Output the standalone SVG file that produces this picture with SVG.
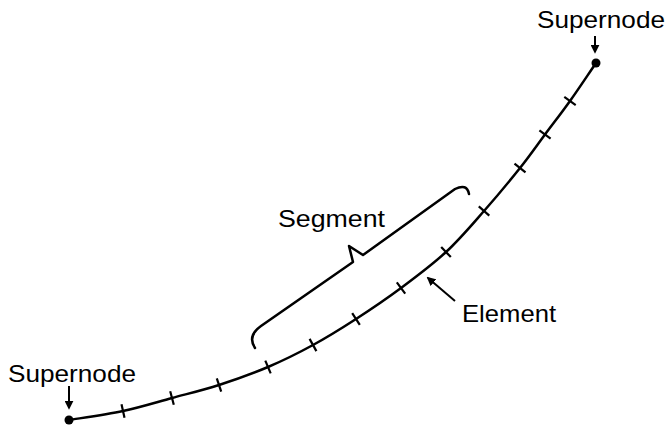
<svg xmlns="http://www.w3.org/2000/svg" width="667" height="432" viewBox="0 0 667 432">
<defs>
<style>
.lbl{font-family:"Liberation Sans",Arial,sans-serif;font-size:24px;fill:#000}
.ln{fill:none;stroke:#000;stroke-width:2.5;stroke-linecap:round;stroke-linejoin:round}
.tk{stroke:#000;stroke-width:2.2}
.ar{fill:none;stroke:#000;stroke-width:2}
</style>
<marker id="ah" viewBox="0 0 10 10" refX="8" refY="5" markerWidth="4.5" markerHeight="4.5" orient="auto" markerUnits="strokeWidth">
<path d="M0,0 L10,5 L0,10 Z" fill="#000"/>
</marker>
</defs>
<rect width="667" height="432" fill="#fff"/>
<g id="connectors">
<path id="line" class="ln" d="M69,420 C78,418.5 105.83,414.67 123,411 C140.17,407.33 156,402.33 172,398 C188,393.67 203,390.17 219,385 C235,379.83 252.33,373.67 268,367 C283.67,360.33 298.33,353 313,345 C327.67,337 341.33,328.5 356,319 C370.67,309.5 386,299.17 401,288 C416,276.83 432.17,264.83 446,252 C459.83,239.17 471.67,225 484,211 C496.33,197 509.83,180.75 520,168 C530.17,155.25 536.67,145.67 545,134.5 C553.33,123.33 561.5,112.92 570,101 C578.5,89.08 587.33,75.67 596,63"/>
<g id="ticks" class="tk">
<line x1="121.5" y1="404.2" x2="124.5" y2="417.8"/>
<line x1="170.2" y1="391.2" x2="173.8" y2="404.8"/>
<line x1="216.8" y1="378.3" x2="221.2" y2="391.7"/>
<line x1="265.3" y1="360.6" x2="270.7" y2="373.4"/>
<line x1="309.6" y1="338.9" x2="316.4" y2="351.1"/>
<line x1="352.2" y1="313.1" x2="359.8" y2="324.9"/>
<line x1="396.8" y1="282.4" x2="405.2" y2="293.6"/>
<line x1="441.2" y1="246.9" x2="450.8" y2="257.1"/>
<line x1="478.8" y1="206.4" x2="489.3" y2="215.6"/>
<line x1="514.5" y1="163.6" x2="525.5" y2="172.4"/>
<line x1="539.4" y1="130.3" x2="550.6" y2="138.7"/>
<line x1="564.3" y1="96.9" x2="575.7" y2="105.1"/>
</g>
</g>
<g id="supernode-left">
<circle cx="69" cy="420" r="4.5" fill="#000"/>
<line class="ar" x1="69" y1="386" x2="69" y2="408" marker-end="url(#ah)"/>
<text class="lbl" x="8" y="382" textLength="128" lengthAdjust="spacingAndGlyphs">Supernode</text>
</g>
<g id="supernode-right">
<circle cx="596" cy="63" r="4.5" fill="#000"/>
<line class="ar" x1="595" y1="36" x2="595" y2="52" marker-end="url(#ah)"/>
<text class="lbl" x="537" y="28" textLength="128" lengthAdjust="spacingAndGlyphs">Supernode</text>
</g>
<g id="segment">
<path class="ln" d="M255,348 Q247,336 261,326 L353,262 L349,246 L363,255 L455,189 Q467,183 469,194"/>
<text class="lbl" x="278" y="227" textLength="107" lengthAdjust="spacingAndGlyphs">Segment</text>
</g>
<g id="element">
<line class="ar" x1="455" y1="301" x2="428" y2="278" marker-end="url(#ah)"/>
<text class="lbl" x="462" y="322" textLength="94" lengthAdjust="spacingAndGlyphs">Element</text>
</g>
</svg>
